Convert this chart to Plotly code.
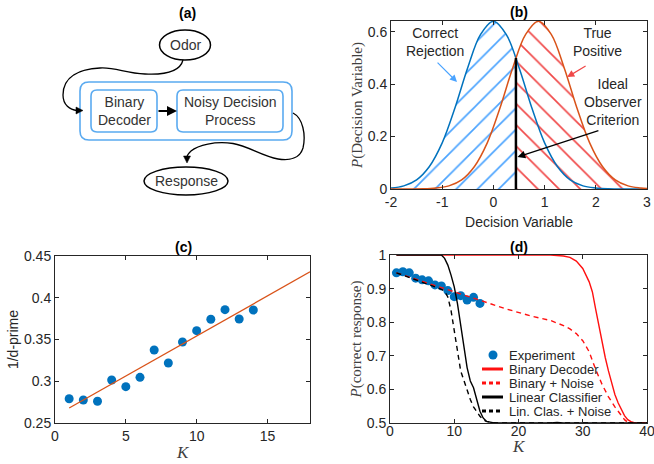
import plotly.graph_objects as go

W, H = 654, 464
def X(px): return px / W
def Y(py): return 1 - py / H

# ---------------- data ----------------
# (b) decision-variable densities
blue_x = [-2, -1.75, -1.5, -1.25, -1, -0.75, -0.5, -0.25, 0, 0.25, 0.5, 0.75, 1, 1.25, 1.5, 1.75, 2, 2.25, 2.5, 2.75, 3]
blue_y = [0.004, 0.012, 0.035, 0.086, 0.176, 0.310, 0.464, 0.590, 0.640, 0.590, 0.464, 0.310, 0.176, 0.086, 0.035, 0.012, 0.004, 0.001, 0.0, 0.0, 0.0]
red_x = [-2, -1.37, -1.12, -0.87, -0.62, -0.37, -0.12, 0.13, 0.38, 0.63, 0.88, 1.13, 1.38, 1.63, 1.88, 2.13, 2.38, 2.63, 2.88, 3.0]
red_y = [0.0, 0.001, 0.004, 0.012, 0.035, 0.086, 0.176, 0.310, 0.464, 0.590, 0.640, 0.590, 0.464, 0.310, 0.176, 0.086, 0.035, 0.012, 0.004, 0.002]
crit_x = 0.44
crit_y = 0.50
b_xticks = [-2, -1, 0, 1, 2, 3]
b_xticklabels = ["-2", "-1", "0", "1", "2", "3"]
b_yticks = [0, 0.2, 0.4, 0.6]
b_yticklabels = ["0", "0.2", "0.4", "0.6"]

# (c) 1/d-prime vs K
c_k = list(range(1, 15))
c_inv_dprime = [0.279, 0.2775, 0.276, 0.3015, 0.2935, 0.3047, 0.3374, 0.3219, 0.347, 0.3606, 0.3742, 0.3857, 0.3746, 0.3853]
c_fit_k = [1, 18]
c_fit_v = [0.268, 0.431]
c_xticks = [0, 5, 10, 15]
c_yticks = [0.25, 0.3, 0.35, 0.4, 0.45]
c_yticklabels = ["0.25", "0.3", "0.35", "0.4", "0.45"]

# (d) P(correct) vs K
d_exp_k = list(range(1, 15))
d_exp_p = [0.947, 0.950, 0.947, 0.931, 0.926, 0.923, 0.911, 0.908, 0.894, 0.876, 0.879, 0.866, 0.874, 0.856]
bd_k = [1, 25, 27, 28, 29, 30, 31, 31.5, 32, 32.5, 33, 33.5, 34, 34.5, 35, 35.5, 36, 36.5, 37, 37.5, 38, 39, 40]
bd_p = [1.0, 1.0, 0.997, 0.993, 0.982, 0.96, 0.92, 0.89, 0.84, 0.79, 0.745, 0.695, 0.655, 0.618, 0.585, 0.56, 0.54, 0.522, 0.51, 0.504, 0.501, 0.5, 0.5]
bn_k = [1, 5, 10, 14, 18, 22, 25, 27, 28, 29, 30, 31, 32, 33, 34, 35, 36, 36.5, 37, 38, 40]
bn_p = [0.947, 0.922, 0.891, 0.866, 0.84, 0.818, 0.805, 0.79, 0.78, 0.766, 0.745, 0.712, 0.66, 0.615, 0.578, 0.548, 0.522, 0.51, 0.502, 0.5, 0.5]
lc_k = [1, 8, 8.5, 9, 9.5, 10, 10.5, 11, 11.5, 12, 12.5, 13, 13.5, 14, 14.5, 15, 16, 17, 25, 26, 27, 40]
lc_p = [1.0, 1.0, 0.99, 0.97, 0.94, 0.905, 0.855, 0.795, 0.73, 0.665, 0.625, 0.605, 0.57, 0.535, 0.515, 0.505, 0.501, 0.5, 0.5, 0.502, 0.5, 0.5]
lcn_k = [1, 2, 3, 4, 5, 6, 7, 8, 8.5, 9, 9.5, 10, 10.5, 11, 11.5, 12, 12.5, 13, 13.5, 14, 14.5, 15, 16, 17, 40]
lcn_p = [0.947, 0.94, 0.933, 0.926, 0.92, 0.913, 0.906, 0.898, 0.892, 0.875, 0.835, 0.78, 0.715, 0.655, 0.625, 0.6, 0.57, 0.548, 0.532, 0.52, 0.51, 0.505, 0.501, 0.5, 0.5]
d_xticks = [0, 10, 20, 30, 40]
d_yticks = [0.5, 0.6, 0.7, 0.8, 0.9, 1.0]
d_yticklabels = ["0.5", "0.6", "0.7", "0.8", "0.9", "1"]
legend_names = ["Experiment", "Binary Decoder", "Binary + Noise", "Linear Classifier", "Lin. Clas. + Noise"]

# ---------------- style ----------------
SANS = "Liberation Sans, Arial, sans-serif"
SERIF = "Liberation Serif, Times New Roman, serif"
INK = "#262626"
MBLUE = "#0072BD"
MORANGE = "#D95319"
RED = "#FF1010"
HATCH_BLUE = "#4AA3FF"
HATCH_RED = "#F04848"
BOXBLUE = "#5AAAF0"

fig = go.Figure()

# dummy trace for diagram axis
fig.add_trace(go.Scatter(x=[0], y=[0], mode="markers", marker=dict(opacity=0),
                         hoverinfo="skip", showlegend=False, xaxis="x", yaxis="y"))

# ---- (b) ----
hb_x = [x for x in blue_x if x < crit_x] + [crit_x]
hb_y = [y for x, y in zip(blue_x, blue_y) if x < crit_x] + [crit_y]
hr_x = [crit_x] + [x for x in red_x if x > crit_x]
hr_y = [crit_y] + [y for x, y in zip(red_x, red_y) if x > crit_x]
fig.add_trace(go.Scatter(x=hb_x, y=hb_y, mode="lines", line=dict(width=0, shape="spline"),
                         fill="tozeroy", fillcolor="rgba(0,0,0,0)",
                         fillpattern=dict(shape="/", fgcolor=HATCH_BLUE, bgcolor="rgba(0,0,0,0)",
                                          size=15, solidity=0.11, fgopacity=1),
                         hoverinfo="skip", showlegend=False, xaxis="x2", yaxis="y2"))
fig.add_trace(go.Scatter(x=hr_x, y=hr_y, mode="lines", line=dict(width=0, shape="spline"),
                         fill="tozeroy", fillcolor="rgba(0,0,0,0)",
                         fillpattern=dict(shape="\\", fgcolor=HATCH_RED, bgcolor="rgba(0,0,0,0)",
                                          size=15, solidity=0.11, fgopacity=1),
                         hoverinfo="skip", showlegend=False, xaxis="x2", yaxis="y2"))
fig.add_trace(go.Scatter(x=blue_x, y=blue_y, mode="lines", line=dict(color=MBLUE, width=1.5, shape="spline"),
                         showlegend=False, xaxis="x2", yaxis="y2"))
fig.add_trace(go.Scatter(x=red_x, y=red_y, mode="lines", line=dict(color=MORANGE, width=1.5, shape="spline"),
                         showlegend=False, xaxis="x2", yaxis="y2"))
fig.add_trace(go.Scatter(x=[crit_x, crit_x], y=[0, crit_y], mode="lines", line=dict(color="black", width=2.5),
                         showlegend=False, xaxis="x2", yaxis="y2"))

# ---- (c) ----
fig.add_trace(go.Scatter(x=c_k, y=c_inv_dprime, mode="markers",
                         marker=dict(color=MBLUE, size=9), showlegend=False, xaxis="x3", yaxis="y3"))
fig.add_trace(go.Scatter(x=c_fit_k, y=c_fit_v, mode="lines", line=dict(color=MORANGE, width=1.3),
                         showlegend=False, xaxis="x3", yaxis="y3"))

# ---- (d) ----
fig.add_trace(go.Scatter(x=d_exp_k, y=d_exp_p, mode="markers", name=legend_names[0],
                         marker=dict(color=MBLUE, size=9), showlegend=False, xaxis="x4", yaxis="y4"))
fig.add_trace(go.Scatter(x=bd_k, y=bd_p, mode="lines", name=legend_names[1],
                         line=dict(color=RED, width=1.4), showlegend=False, xaxis="x4", yaxis="y4"))
fig.add_trace(go.Scatter(x=bn_k, y=bn_p, mode="lines", name=legend_names[2],
                         line=dict(color=RED, width=1.4, dash="5px,4px"), showlegend=False, xaxis="x4", yaxis="y4"))
fig.add_trace(go.Scatter(x=lc_k, y=lc_p, mode="lines", name=legend_names[3],
                         line=dict(color="black", width=1.4), showlegend=False, xaxis="x4", yaxis="y4"))
fig.add_trace(go.Scatter(x=lcn_k, y=lcn_p, mode="lines", name=legend_names[4],
                         line=dict(color="black", width=1.4, dash="5px,4px"), showlegend=False, xaxis="x4", yaxis="y4"))

# ---------------- axes ----------------
TICKFONT = dict(family=SANS, size=14, color=INK)
def ax_common(**kw):
    d = dict(showline=True, linecolor=INK, linewidth=1, mirror="ticks", ticks="inside", ticklen=4,
             tickcolor=INK, tickwidth=1, showgrid=False, zeroline=False, automargin=False,
             ticklabeloverflow="allow", tickfont=TICKFONT)
    d.update(kw)
    return d

fig.update_layout(
    width=W, height=H, margin=dict(l=0, r=0, t=0, b=0, autoexpand=False),
    paper_bgcolor="white", plot_bgcolor="white",
    xaxis=dict(domain=[0, X(330)], range=[0, 330], visible=False, fixedrange=True, automargin=False),
    yaxis=dict(domain=[Y(210), 1], range=[210, 0], visible=False, fixedrange=True, automargin=False),
    xaxis2=ax_common(domain=[X(391), X(647)], range=[-2, 3], anchor="y2",
                     tickvals=b_xticks, ticktext=b_xticklabels,
                     title=dict(text="Decision Variable", font=dict(family=SANS, size=14, color=INK), standoff=8)),
    yaxis2=ax_common(domain=[Y(189), Y(21)], range=[0, 0.641], anchor="x2",
                     tickvals=b_yticks, ticktext=b_yticklabels,
                     title=dict(text="<i>P</i>(Decision Variable)", font=dict(family=SERIF, size=15, color="#404040"), standoff=1)),
    xaxis3=ax_common(domain=[X(55), X(310)], range=[0, 18], anchor="y3", tickvals=c_xticks),
    yaxis3=ax_common(domain=[Y(423), Y(256)], range=[0.25, 0.45], anchor="x3",
                     tickvals=c_yticks, ticktext=c_yticklabels,
                     title=dict(text="1/d-prime", font=dict(family=SANS, size=14, color=INK), standoff=2)),
    xaxis4=ax_common(domain=[X(390), X(647)], range=[0, 40], anchor="y4", tickvals=d_xticks,
                     ticklabelstandoff=-5),
    yaxis4=ax_common(domain=[Y(423), Y(255)], range=[0.5, 1.0], anchor="x4",
                     tickvals=d_yticks, ticktext=d_yticklabels,
                     title=dict(text="<i>P</i>(correct response)", font=dict(family=SERIF, size=15, color="#404040"), standoff=1)),
)

shapes = []
annotations = []

# ---------------- panel titles & K labels ----------------
for txt, px, py in [("(a)", 187, 13), ("(b)", 519, 12), ("(c)", 183, 247), ("(d)", 519, 247)]:
    annotations.append(dict(text="<b>%s</b>" % txt, x=X(px), y=Y(py), xref="paper", yref="paper",
                            showarrow=False, font=dict(family=SANS, size=14, color="black"),
                            xanchor="center", yanchor="middle"))
for px, py in [(183, 452), (519, 446)]:
    annotations.append(dict(text="<i>K</i>", x=X(px), y=Y(py), xref="paper", yref="paper",
                            showarrow=False, font=dict(family=SERIF, size=17, color="#404040"),
                            xanchor="center", yanchor="middle"))

# ---------------- (a) diagram ----------------
def rrect(x0, y0, x1, y1, r):
    return ("M {a},{y0} L {b},{y0} Q {x1},{y0} {x1},{c} L {x1},{d} Q {x1},{y1} {b},{y1} "
            "L {a},{y1} Q {x0},{y1} {x0},{d} L {x0},{c} Q {x0},{y0} {a},{y0} Z").format(
        a=x0 + r, b=x1 - r, c=y0 + r, d=y1 - r, x0=x0, x1=x1, y0=y0, y1=y1)

shapes.append(dict(type="path", xref="x", yref="y", path=rrect(80, 82, 292, 140, 9),
                   line=dict(color=BOXBLUE, width=1.6)))
shapes.append(dict(type="path", xref="x", yref="y", path=rrect(91, 90, 157, 132, 6),
                   line=dict(color=BOXBLUE, width=1.6)))
shapes.append(dict(type="path", xref="x", yref="y", path=rrect(177, 90, 283, 132, 6),
                   line=dict(color=BOXBLUE, width=1.6)))
shapes.append(dict(type="circle", xref="x", yref="y", x0=159.5, x1=210.5, y0=30, y1=60,
                   line=dict(color="black", width=1.5)))
shapes.append(dict(type="circle", xref="x", yref="y", x0=144, x1=228, y0=167, y1=195,
                   line=dict(color="black", width=1.5)))
# connector curves
shapes.append(dict(type="path", xref="x", yref="y",
                   path="M 183,60 C 180,72 165,75 145,74 C 125,73 115,67 100,68 C 80,69 63,76 63,95 C 63,105 70,110 77,110.5",
                   line=dict(color="black", width=1.3)))
shapes.append(dict(type="path", xref="x", yref="y", path="M 76,107 L 83,110.5 L 76,114 Z",
                   fillcolor="black", line=dict(color="black", width=0.5)))
shapes.append(dict(type="path", xref="x", yref="y",
                   path="M 293,113 C 303,118 306,135 303,148 C 300,158 290,161 278,159 C 262,156 248,146 233,143.5 C 215,141 198,145 191,151 C 188,154 187,155 187,157",
                   line=dict(color="black", width=1.3)))
shapes.append(dict(type="path", xref="x", yref="y", path="M 183.5,156 L 190.5,156 L 187,163 Z",
                   fillcolor="black", line=dict(color="black", width=0.5)))
# arrow between boxes
annotations.append(dict(x=177, y=111, ax=157, ay=111, xref="x", yref="y", axref="x", ayref="y",
                        showarrow=True, arrowhead=2, arrowsize=1, arrowwidth=2, arrowcolor="black", text=""))
diag_font = dict(family=SANS, size=14, color="#333333")
for txt, px, py in [("Odor", 185, 45), ("Response", 186, 181),
                    ("Binary<br>Decoder", 124, 111), ("Noisy Decision<br>Process", 230, 111)]:
    annotations.append(dict(text=txt, x=px, y=py, xref="x", yref="y", showarrow=False,
                            font=diag_font, xanchor="center", yanchor="middle"))

# ---------------- (b) annotations ----------------
bfont = dict(family=SANS, size=14, color=INK)
annotations.append(dict(text="Correct<br>Rejection", x=-1.14, y=0.5625, xref="x2", yref="y2",
                        showarrow=False, font=bfont))
annotations.append(dict(x=-0.71, y=0.408, ax=-1.12, ay=0.488, xref="x2", yref="y2", axref="x2", ayref="y2",
                        showarrow=True, arrowhead=2, arrowsize=1.2, arrowwidth=1.2, arrowcolor=HATCH_BLUE, text=""))
annotations.append(dict(text="True<br>Positive", x=2.04, y=0.5625, xref="x2", yref="y2",
                        showarrow=False, font=bfont))
annotations.append(dict(x=1.44, y=0.427, ax=1.83, ay=0.473, xref="x2", yref="y2", axref="x2", ayref="y2",
                        showarrow=True, arrowhead=2, arrowsize=1.2, arrowwidth=1.2, arrowcolor=HATCH_RED, text=""))
annotations.append(dict(text="Ideal<br>Observer<br>Criterion", x=2.34, y=0.332, xref="x2", yref="y2",
                        showarrow=False, font=bfont))
annotations.append(dict(x=0.47, y=0.122, ax=2.08, ay=0.225, xref="x2", yref="y2", axref="x2", ayref="y2",
                        showarrow=True, arrowhead=2, arrowsize=1.2, arrowwidth=1.3, arrowcolor="black", text=""))

# ---------------- (d) legend (manual) ----------------
rows_y = [355, 369, 383, 397, 411]
shapes.append(dict(type="circle", xref="paper", yref="paper",
                   x0=X(488.5), x1=X(497.5), y0=Y(359.5), y1=Y(350.5),
                   fillcolor=MBLUE, line=dict(color=MBLUE, width=0)))
leg_styles = [(RED, None), (RED, "4px,3px"), ("black", None), ("black", "4px,3px")]
for (col, dash), ry in zip(leg_styles, rows_y[1:]):
    ln = dict(color=col, width=3)
    if dash:
        ln["dash"] = dash
    shapes.append(dict(type="line", xref="paper", yref="paper", x0=X(482), x1=X(503), y0=Y(ry), y1=Y(ry), line=ln))
for name, ry in zip(legend_names, rows_y):
    annotations.append(dict(text=name, x=X(507), y=Y(ry), xref="paper", yref="paper", showarrow=False,
                            xanchor="left", yanchor="middle", font=dict(family=SANS, size=13, color=INK)))

fig.update_layout(shapes=shapes, annotations=annotations)
fig.write_html("out.html", config={"displayModeBar": False},
               post_script="document.body.style.margin='0px';document.body.style.padding='0px';")
